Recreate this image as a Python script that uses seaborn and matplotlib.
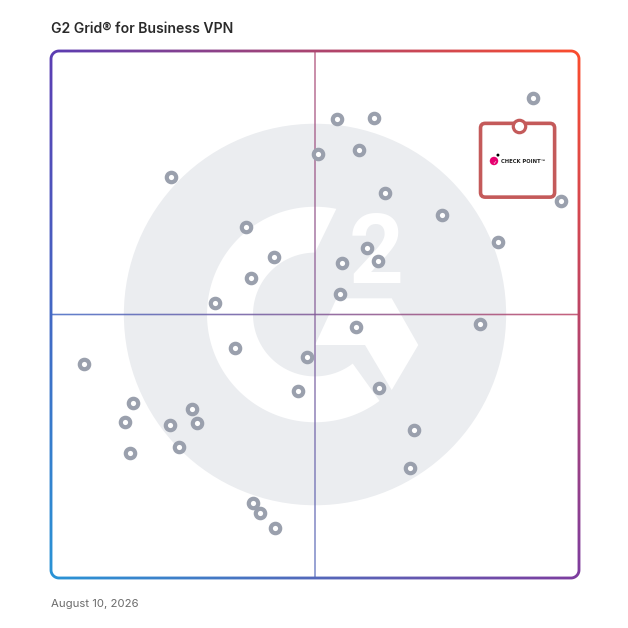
import numpy as np
import pandas as pd
import matplotlib
matplotlib.use("Agg")
import matplotlib.pyplot as plt
import seaborn as sns
from matplotlib.path import Path
from matplotlib.patches import Circle, Polygon, FancyBboxPatch, PathPatch

# ---- data (satisfaction = x, market presence = y, 0..100 scale) ----
satisfaction = [22.7, 50.6, 58.3, 63.2, 74.1, 84.6, 36.9, 42.2, 37.8, 31.1,
                59.8, 55.2, 61.9, 54.7, 57.7, 81.3, 34.8, 48.5, 46.7, 62.1,
                15.5, 14.1, 22.5, 26.7, 27.6, 15.0, 24.2, 68.8, 67.9, 38.2,
                39.5, 42.5, 91.2, 54.2, 61.1, 96.5, 6.3]
market_presence = [76.0, 80.4, 81.3, 73.1, 68.8, 63.8, 66.6, 60.9, 57.0, 52.1,
                   62.6, 59.8, 60.2, 53.8, 47.6, 48.2, 43.7, 41.9, 35.5, 36.1,
                   33.3, 29.6, 29.0, 32.1, 29.4, 23.7, 24.9, 28.1, 20.8, 14.2,
                   12.3, 9.4, 91.0, 87.1, 87.2, 71.5, 40.7]
highlight_name = "CHECK POINT"
highlight_x = [88.6]
highlight_y = [85.8]
title = "G2 Grid\u00ae for Business VPN"
date_label = "August 10, 2026"

df = pd.DataFrame({"satisfaction": satisfaction, "market_presence": market_presence})
hl = pd.DataFrame({"satisfaction": highlight_x, "market_presence": highlight_y})

sns.set_theme(style="white")
plt.rcParams["font.family"] = ["Inter", "DejaVu Sans"]

W = 628
fig = plt.figure(figsize=(6.28, 6.28), dpi=100)
ax = fig.add_axes([51 / W, 1 - 578 / W, 528 / W, 527 / W])
ax.set_xlim(0, 100)
ax.set_ylim(0, 100)
ax.axis("off")

# gradient colours at corners
TL = np.array([90, 60, 180]) / 255
TR = np.array([255, 77, 42]) / 255
BL = np.array([40, 150, 215]) / 255
BR = np.array([125, 60, 160]) / 255

n = 300
uu, vv = np.meshgrid(np.linspace(0, 1, n), np.linspace(0, 1, n))
uu = uu[..., None]
vv = vv[..., None]
grad_img = (BL * (1 - uu) + BR * uu) * (1 - vv) + (TL * (1 - uu) + TR * uu) * vv


def rrect(x0, y0, x1, y1, rad, reverse=False):
    pts = []
    def arc(cx, cy, a0, a1):
        a = np.radians(np.linspace(a0, a1, 24))
        return np.column_stack([cx + rad * np.cos(a), cy + rad * np.sin(a)])
    pts.append(arc(x1 - rad, y0 + rad, -90, 0))
    pts.append(arc(x1 - rad, y1 - rad, 0, 90))
    pts.append(arc(x0 + rad, y1 - rad, 90, 180))
    pts.append(arc(x0 + rad, y0 + rad, 180, 270))
    p = np.concatenate(pts)
    if reverse:
        p = p[::-1]
    return np.vstack([p, p[:1]])


def gradient_fill(path, alpha=1.0, z=3):
    patch = PathPatch(path, transform=ax.transData, facecolor="none", edgecolor="none")
    ax.add_patch(patch)
    im = ax.imshow(grad_img, extent=(-1.5, 101.5, -1.5, 101.5), origin="lower",
                   interpolation="bilinear", alpha=alpha, zorder=z, aspect="auto")
    im.set_clip_path(patch)
    im.set_clip_box(fig.bbox)


def ring_path(outer, inner):
    verts = np.vstack([outer, inner])
    codes = ([Path.MOVETO] + [Path.LINETO] * (len(outer) - 2) + [Path.CLOSEPOLY] +
             [Path.MOVETO] + [Path.LINETO] * (len(inner) - 2) + [Path.CLOSEPOLY])
    return Path(verts, codes)


# watermark
ax.add_patch(Circle((50, 50), 36.2, facecolor="#ebedf0", edgecolor="none", zorder=0))
r_out, r_in = 20.45, 11.74
a_out = np.radians(np.linspace(78.6, 306.7, 200))
a_in = np.radians(np.linspace(307.5, 90, 200))
g_pts = np.concatenate([
    np.column_stack([50 + r_out * np.cos(a_out), 50 + r_out * np.sin(a_out)]),
    np.column_stack([50 + r_in * np.cos(a_in), 50 + r_in * np.sin(a_in)]),
])
ax.add_patch(Polygon(g_pts, closed=True, facecolor="white", edgecolor="none", zorder=1))
chev = [(54.1, 53.07), (64.53, 53.07), (69.56, 44.21), (64.53, 35.67),
        (59.47, 44.21), (50.0, 44.21)]
ax.add_patch(Polygon(chev, closed=True, facecolor="white", edgecolor="none", zorder=1))
ax.text(61.65, 56.0, "2", color="white", fontsize=69, fontweight="bold",
        family=["Roboto", "DejaVu Sans"], ha="center", va="baseline", zorder=1)

# midlines (thin gradient bands)
hw = 0.15
vline = rrect(50 - hw, 0, 50 + hw, 100, 0.01)
hline = rrect(0, 50 - hw, 100, 50 + hw, 0.01)
gradient_fill(Path(vline, closed=True), alpha=0.75, z=2)
gradient_fill(Path(hline, closed=True), alpha=0.85, z=2)

# rounded gradient frame
r = 1.52
h = 0.27
outer = rrect(-h, -h, 100 + h, 100 + h, r + h)
inner = rrect(h, h, 100 - h, 100 - h, r - h, reverse=True)
gradient_fill(ring_path(outer, inner), z=3)

ax.set_xlim(0, 100)
ax.set_ylim(0, 100)

# vendor points
sns.scatterplot(data=df, x="satisfaction", y="market_presence", ax=ax,
                s=46, facecolor="white", edgecolor="#9aa0ad", linewidth=3.0,
                zorder=4, legend=False)

# highlighted vendor box
hx, hy = highlight_x[0], highlight_y[0]
box = FancyBboxPatch((hx - 7.25, hy - 13.53), 14.03, 14.0,
                     boxstyle="round,pad=0,rounding_size=0.9",
                     facecolor="white", edgecolor="#c45a5a", linewidth=2.6, zorder=5)
ax.add_patch(box)
sns.scatterplot(data=hl, x="satisfaction", y="market_presence", ax=ax,
                s=80, facecolor="white", edgecolor="#c45a5a", linewidth=2.3,
                zorder=6, legend=False)
ax.add_patch(Circle((hx - 4.7, hy - 6.67), 0.8, facecolor="#e5006f", edgecolor="none", zorder=6))
ax.text(hx - 4.7, hy - 6.75, "\u2713", color="white", fontsize=3.5, fontweight="bold",
        family=["DejaVu Sans"], ha="center", va="center", zorder=7)
ax.add_patch(Circle((hx - 3.95, hy - 5.55), 0.28, facecolor="black", edgecolor="none", zorder=6))
ax.text(hx - 3.4, hy - 6.7, highlight_name + "\u2122", color="#222222", fontsize=3.8,
        fontweight="bold", family=["DejaVu Sans"], ha="left", va="center", zorder=6)

ax.set_xlabel("")
ax.set_ylabel("")
ax.set_xlim(0, 100)
ax.set_ylim(0, 100)

fig.text(51 / W, 1 - 29 / W, title, fontsize=10.1, fontweight="semibold",
         color="#2a2a2a", ha="left", va="center")
fig.text(51 / W, 1 - 604 / W, date_label, fontsize=8.2, color="#6b6b6b",
         ha="left", va="center")

fig.savefig("out.png", dpi=100, facecolor="white")
